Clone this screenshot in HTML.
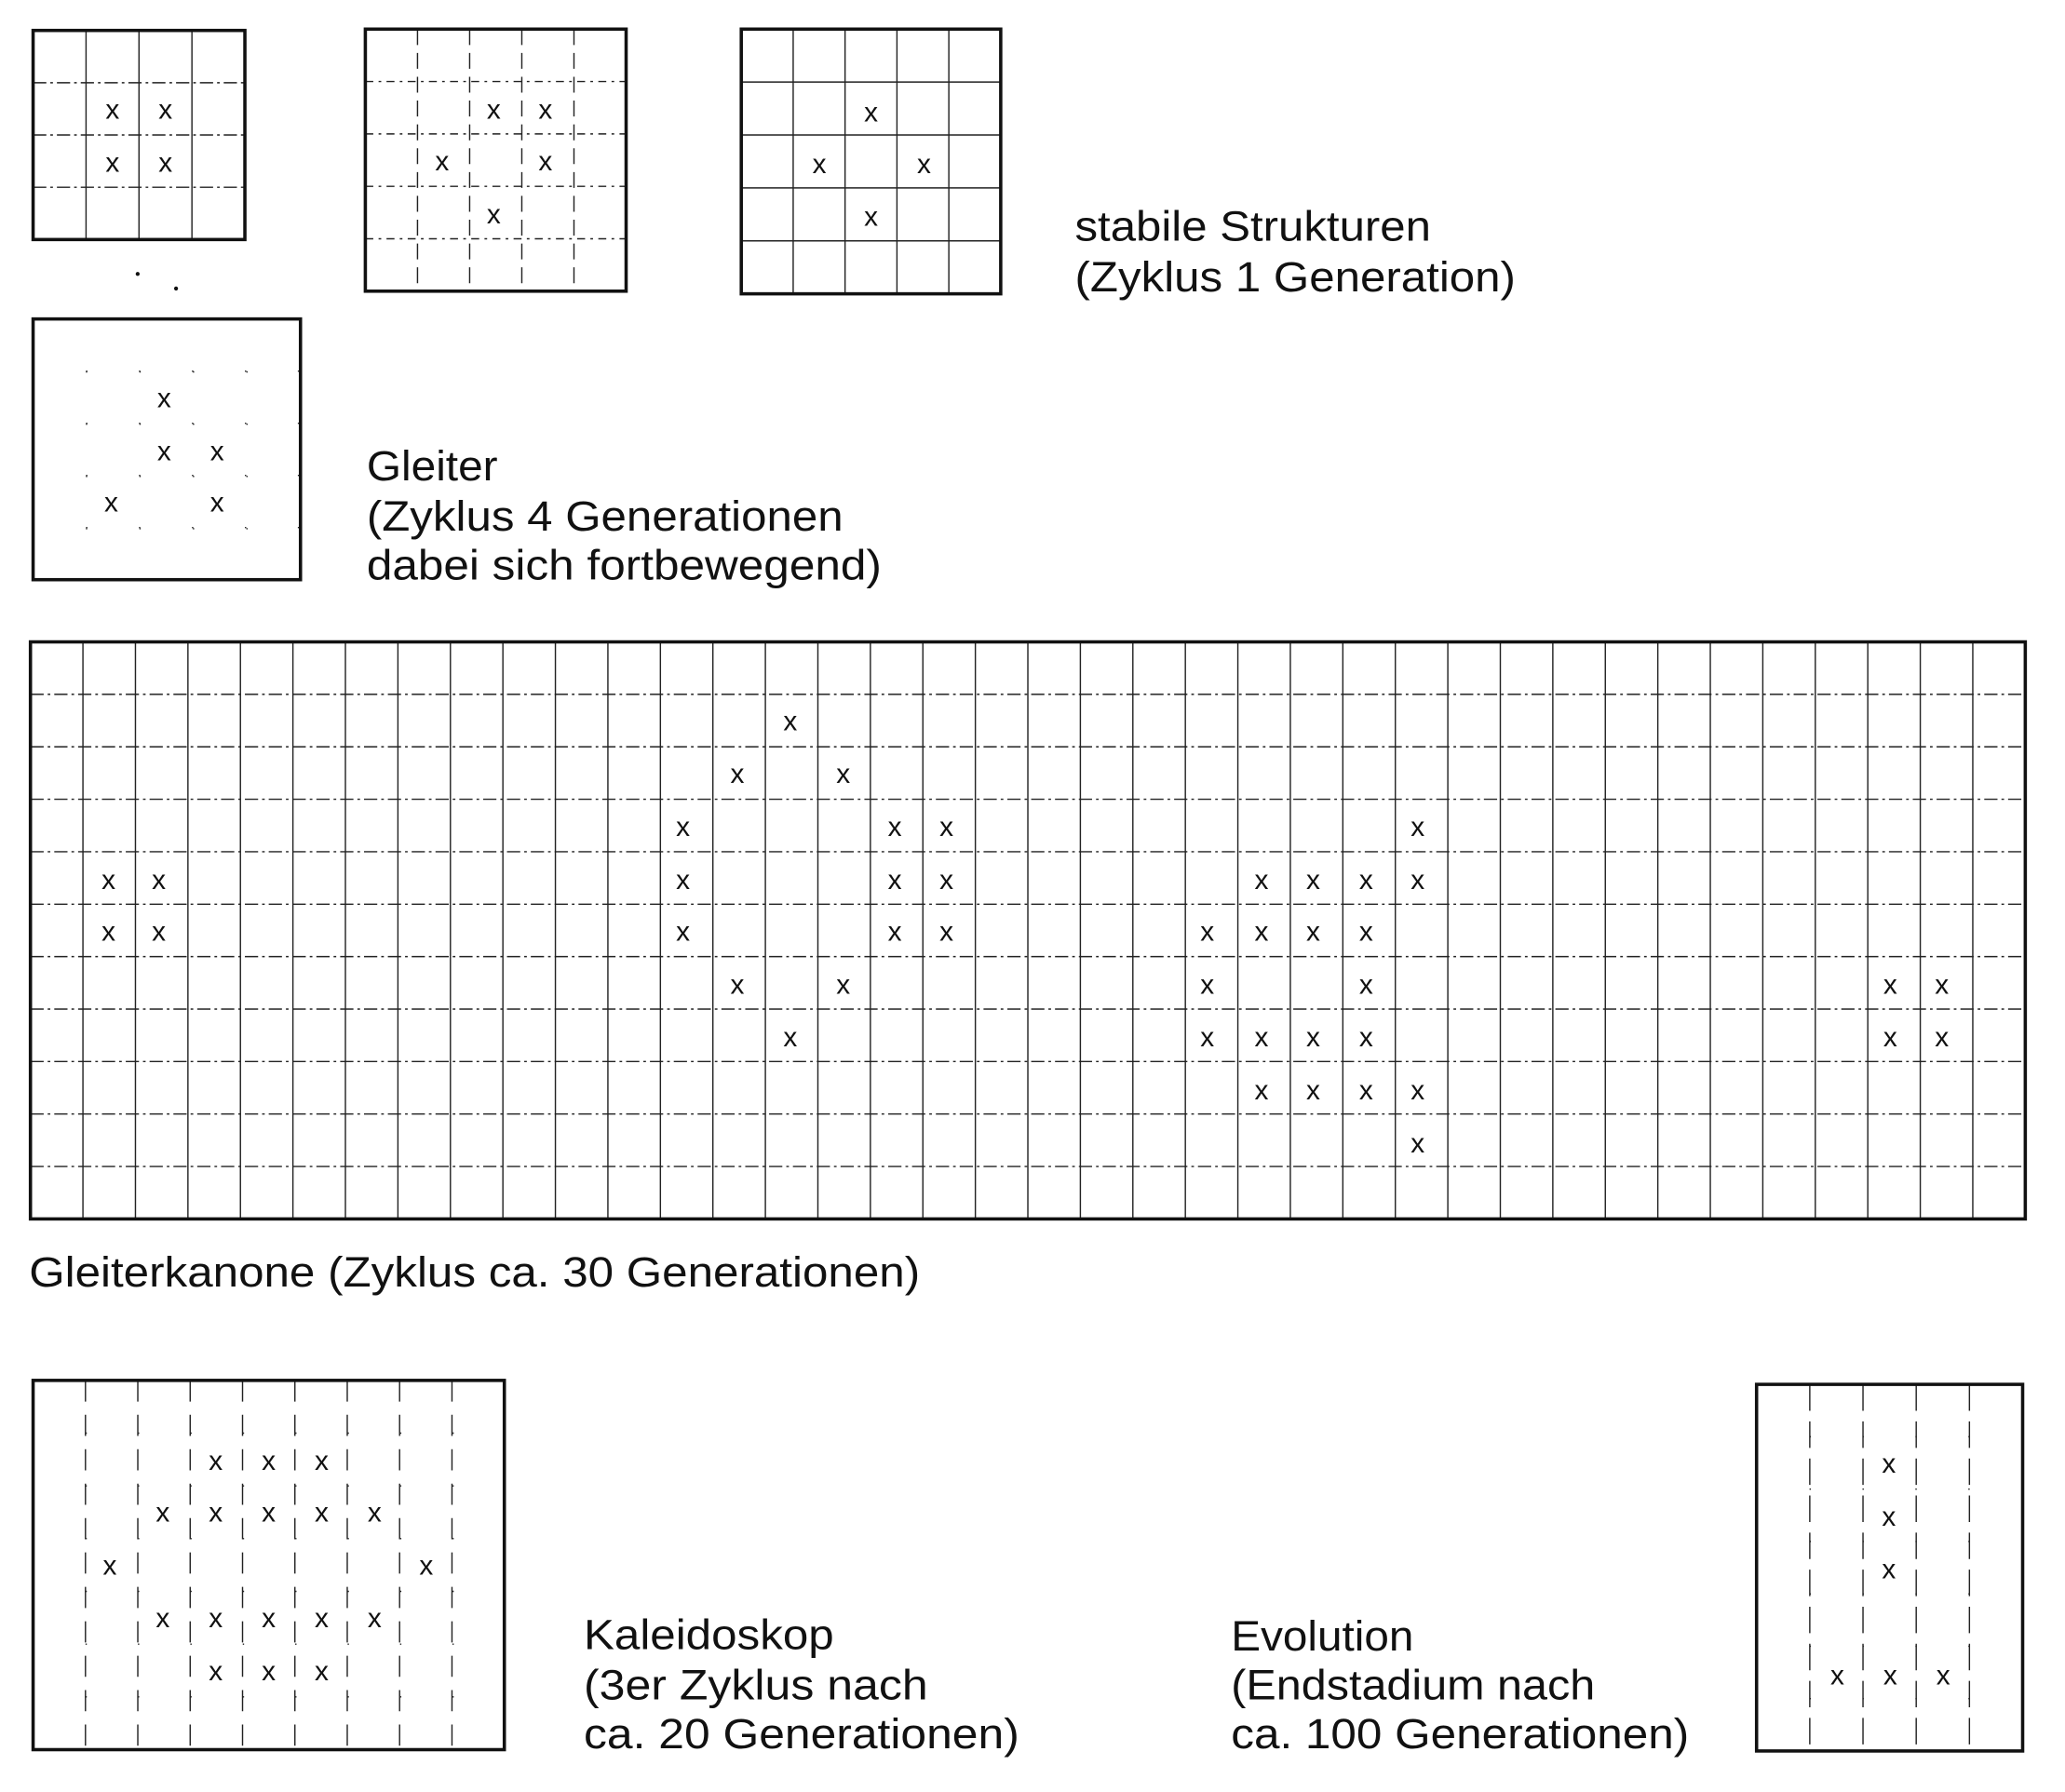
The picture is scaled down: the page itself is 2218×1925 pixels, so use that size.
<!DOCTYPE html>
<html><head><meta charset="utf-8"><style>
html,body{margin:0;padding:0;background:#fff;}
svg{display:block;}
text{font-family:"Liberation Sans",sans-serif;fill:#111;}
.l{font-size:32px;}
.x{font-size:21px;text-anchor:middle;dominant-baseline:central;}
</style></head><body>
<svg id="s" width="2218" height="1925" viewBox="0 0 1560 1354" preserveAspectRatio="none" xmlns="http://www.w3.org/2000/svg">
<g id="grid" stroke="#222" fill="none"></g>
<g fill="none" stroke="#111" stroke-width="2.5">
<rect x="25" y="23" width="160" height="158"/>
<rect x="276" y="22" width="197" height="198"/>
<rect x="560" y="22" width="196" height="200"/>
<rect x="25" y="241" width="202" height="197"/>
<rect x="23" y="485" width="1507" height="436"/>
<rect x="25" y="1043" width="356" height="279"/>
<rect x="1327" y="1046" width="201" height="277"/>
</g>
<circle cx="104" cy="207" r="1.5" fill="#111"/><circle cx="133" cy="218" r="1.5" fill="#111"/>
<g class="xs">
<text class="x" x="85" y="83">x</text><text class="x" x="125" y="83">x</text><text class="x" x="85" y="123">x</text><text class="x" x="125" y="123">x</text>
<text class="x" x="373" y="83">x</text><text class="x" x="412" y="83">x</text><text class="x" x="334" y="122">x</text><text class="x" x="412" y="122">x</text><text class="x" x="373" y="162">x</text>
<text class="x" x="658" y="85">x</text><text class="x" x="619" y="124">x</text><text class="x" x="698" y="124">x</text><text class="x" x="658" y="164">x</text>
<text class="x" x="124" y="301">x</text><text class="x" x="124" y="341">x</text><text class="x" x="164" y="341">x</text><text class="x" x="84" y="380">x</text><text class="x" x="164" y="380">x</text>
<text class="x" x="597" y="545">x</text>
<text class="x" x="557" y="585">x</text><text class="x" x="637" y="585">x</text>
<text class="x" x="516" y="625">x</text><text class="x" x="676" y="625">x</text><text class="x" x="715" y="625">x</text><text class="x" x="1071" y="625">x</text>
<text class="x" x="82" y="665">x</text><text class="x" x="120" y="665">x</text><text class="x" x="516" y="665">x</text><text class="x" x="676" y="665">x</text><text class="x" x="715" y="665">x</text><text class="x" x="953" y="665">x</text><text class="x" x="992" y="665">x</text><text class="x" x="1032" y="665">x</text><text class="x" x="1071" y="665">x</text>
<text class="x" x="82" y="704">x</text><text class="x" x="120" y="704">x</text><text class="x" x="516" y="704">x</text><text class="x" x="676" y="704">x</text><text class="x" x="715" y="704">x</text><text class="x" x="912" y="704">x</text><text class="x" x="953" y="704">x</text><text class="x" x="992" y="704">x</text><text class="x" x="1032" y="704">x</text>
<text class="x" x="557" y="744">x</text><text class="x" x="637" y="744">x</text><text class="x" x="912" y="744">x</text><text class="x" x="1032" y="744">x</text><text class="x" x="1428" y="744">x</text><text class="x" x="1467" y="744">x</text>
<text class="x" x="597" y="784">x</text><text class="x" x="912" y="784">x</text><text class="x" x="953" y="784">x</text><text class="x" x="992" y="784">x</text><text class="x" x="1032" y="784">x</text><text class="x" x="1428" y="784">x</text><text class="x" x="1467" y="784">x</text>
<text class="x" x="953" y="824">x</text><text class="x" x="992" y="824">x</text><text class="x" x="1032" y="824">x</text><text class="x" x="1071" y="824">x</text>
<text class="x" x="1071" y="864">x</text>
<text class="x" x="163" y="1104">x</text><text class="x" x="203" y="1104">x</text><text class="x" x="243" y="1104">x</text>
<text class="x" x="123" y="1143">x</text><text class="x" x="163" y="1143">x</text><text class="x" x="203" y="1143">x</text><text class="x" x="243" y="1143">x</text><text class="x" x="283" y="1143">x</text>
<text class="x" x="83" y="1183">x</text><text class="x" x="322" y="1183">x</text>
<text class="x" x="123" y="1223">x</text><text class="x" x="163" y="1223">x</text><text class="x" x="203" y="1223">x</text><text class="x" x="243" y="1223">x</text><text class="x" x="283" y="1223">x</text>
<text class="x" x="163" y="1263">x</text><text class="x" x="203" y="1263">x</text><text class="x" x="243" y="1263">x</text>
<text class="x" x="1427" y="1106">x</text><text class="x" x="1427" y="1146">x</text><text class="x" x="1427" y="1186">x</text>
<text class="x" x="1388" y="1266">x</text><text class="x" x="1428" y="1266">x</text><text class="x" x="1468" y="1266">x</text>
</g>
<text class="l" x="812" y="182" textLength="269" lengthAdjust="spacingAndGlyphs">stabile Strukturen</text>
<text class="l" x="812" y="220" textLength="333" lengthAdjust="spacingAndGlyphs">(Zyklus 1 Generation)</text>
<text class="l" x="277" y="363" textLength="99" lengthAdjust="spacingAndGlyphs">Gleiter</text>
<text class="l" x="277" y="401" textLength="360" lengthAdjust="spacingAndGlyphs">(Zyklus 4 Generationen</text>
<text class="l" x="277" y="438" textLength="389" lengthAdjust="spacingAndGlyphs">dabei sich fortbewegend)</text>
<text class="l" x="22" y="972" textLength="673" lengthAdjust="spacingAndGlyphs">Gleiterkanone (Zyklus ca. 30 Generationen)</text>
<text class="l" x="441" y="1246" textLength="189" lengthAdjust="spacingAndGlyphs">Kaleidoskop</text>
<text class="l" x="441" y="1284" textLength="260" lengthAdjust="spacingAndGlyphs">(3er Zyklus nach</text>
<text class="l" x="441" y="1321" textLength="329" lengthAdjust="spacingAndGlyphs">ca. 20 Generationen)</text>
<text class="l" x="930" y="1247" textLength="138" lengthAdjust="spacingAndGlyphs">Evolution</text>
<text class="l" x="930" y="1284" textLength="275" lengthAdjust="spacingAndGlyphs">(Endstadium nach</text>
<text class="l" x="930" y="1321" textLength="346" lengthAdjust="spacingAndGlyphs">ca. 100 Generationen)</text>
</svg>
<script>
var g=document.getElementById('grid'),NS='http://www.w3.org/2000/svg';
function ln(x1,y1,x2,y2,d,w){var e=document.createElementNS(NS,'line');e.setAttribute('x1',x1);e.setAttribute('y1',y1);e.setAttribute('x2',x2);e.setAttribute('y2',y2);e.setAttribute('stroke-width',w||1);if(d)e.setAttribute('stroke-dasharray',d);g.appendChild(e);}
function grid(x0,y0,x1,y1,nc,nr,vd,hd){var cw=(x1-x0)/nc,rh=(y1-y0)/nr;for(var i=1;i<nc;i++)ln(x0+cw*i,y0,x0+cw*i,y1,vd);for(var j=1;j<nr;j++)ln(x0,y0+rh*j,x1,y0+rh*j,hd);}
grid(25,23,185,181,4,4,null,'10 3 2 3');
grid(276,22,473,220,5,5,'12 6','6 4 2 4');
grid(560,22,756,222,5,5,null,null);
grid(25,241,227,438,5,5,'1 38.5','1 39');
grid(23,485,1530,921,38,11,null,'10 3 2 3');
grid(25,1043,381,1322,9,7,'16 10','1 38.6');
grid(1327,1046,1528,1323,5,7,'20 8','1 39');
</script>
</body></html>
